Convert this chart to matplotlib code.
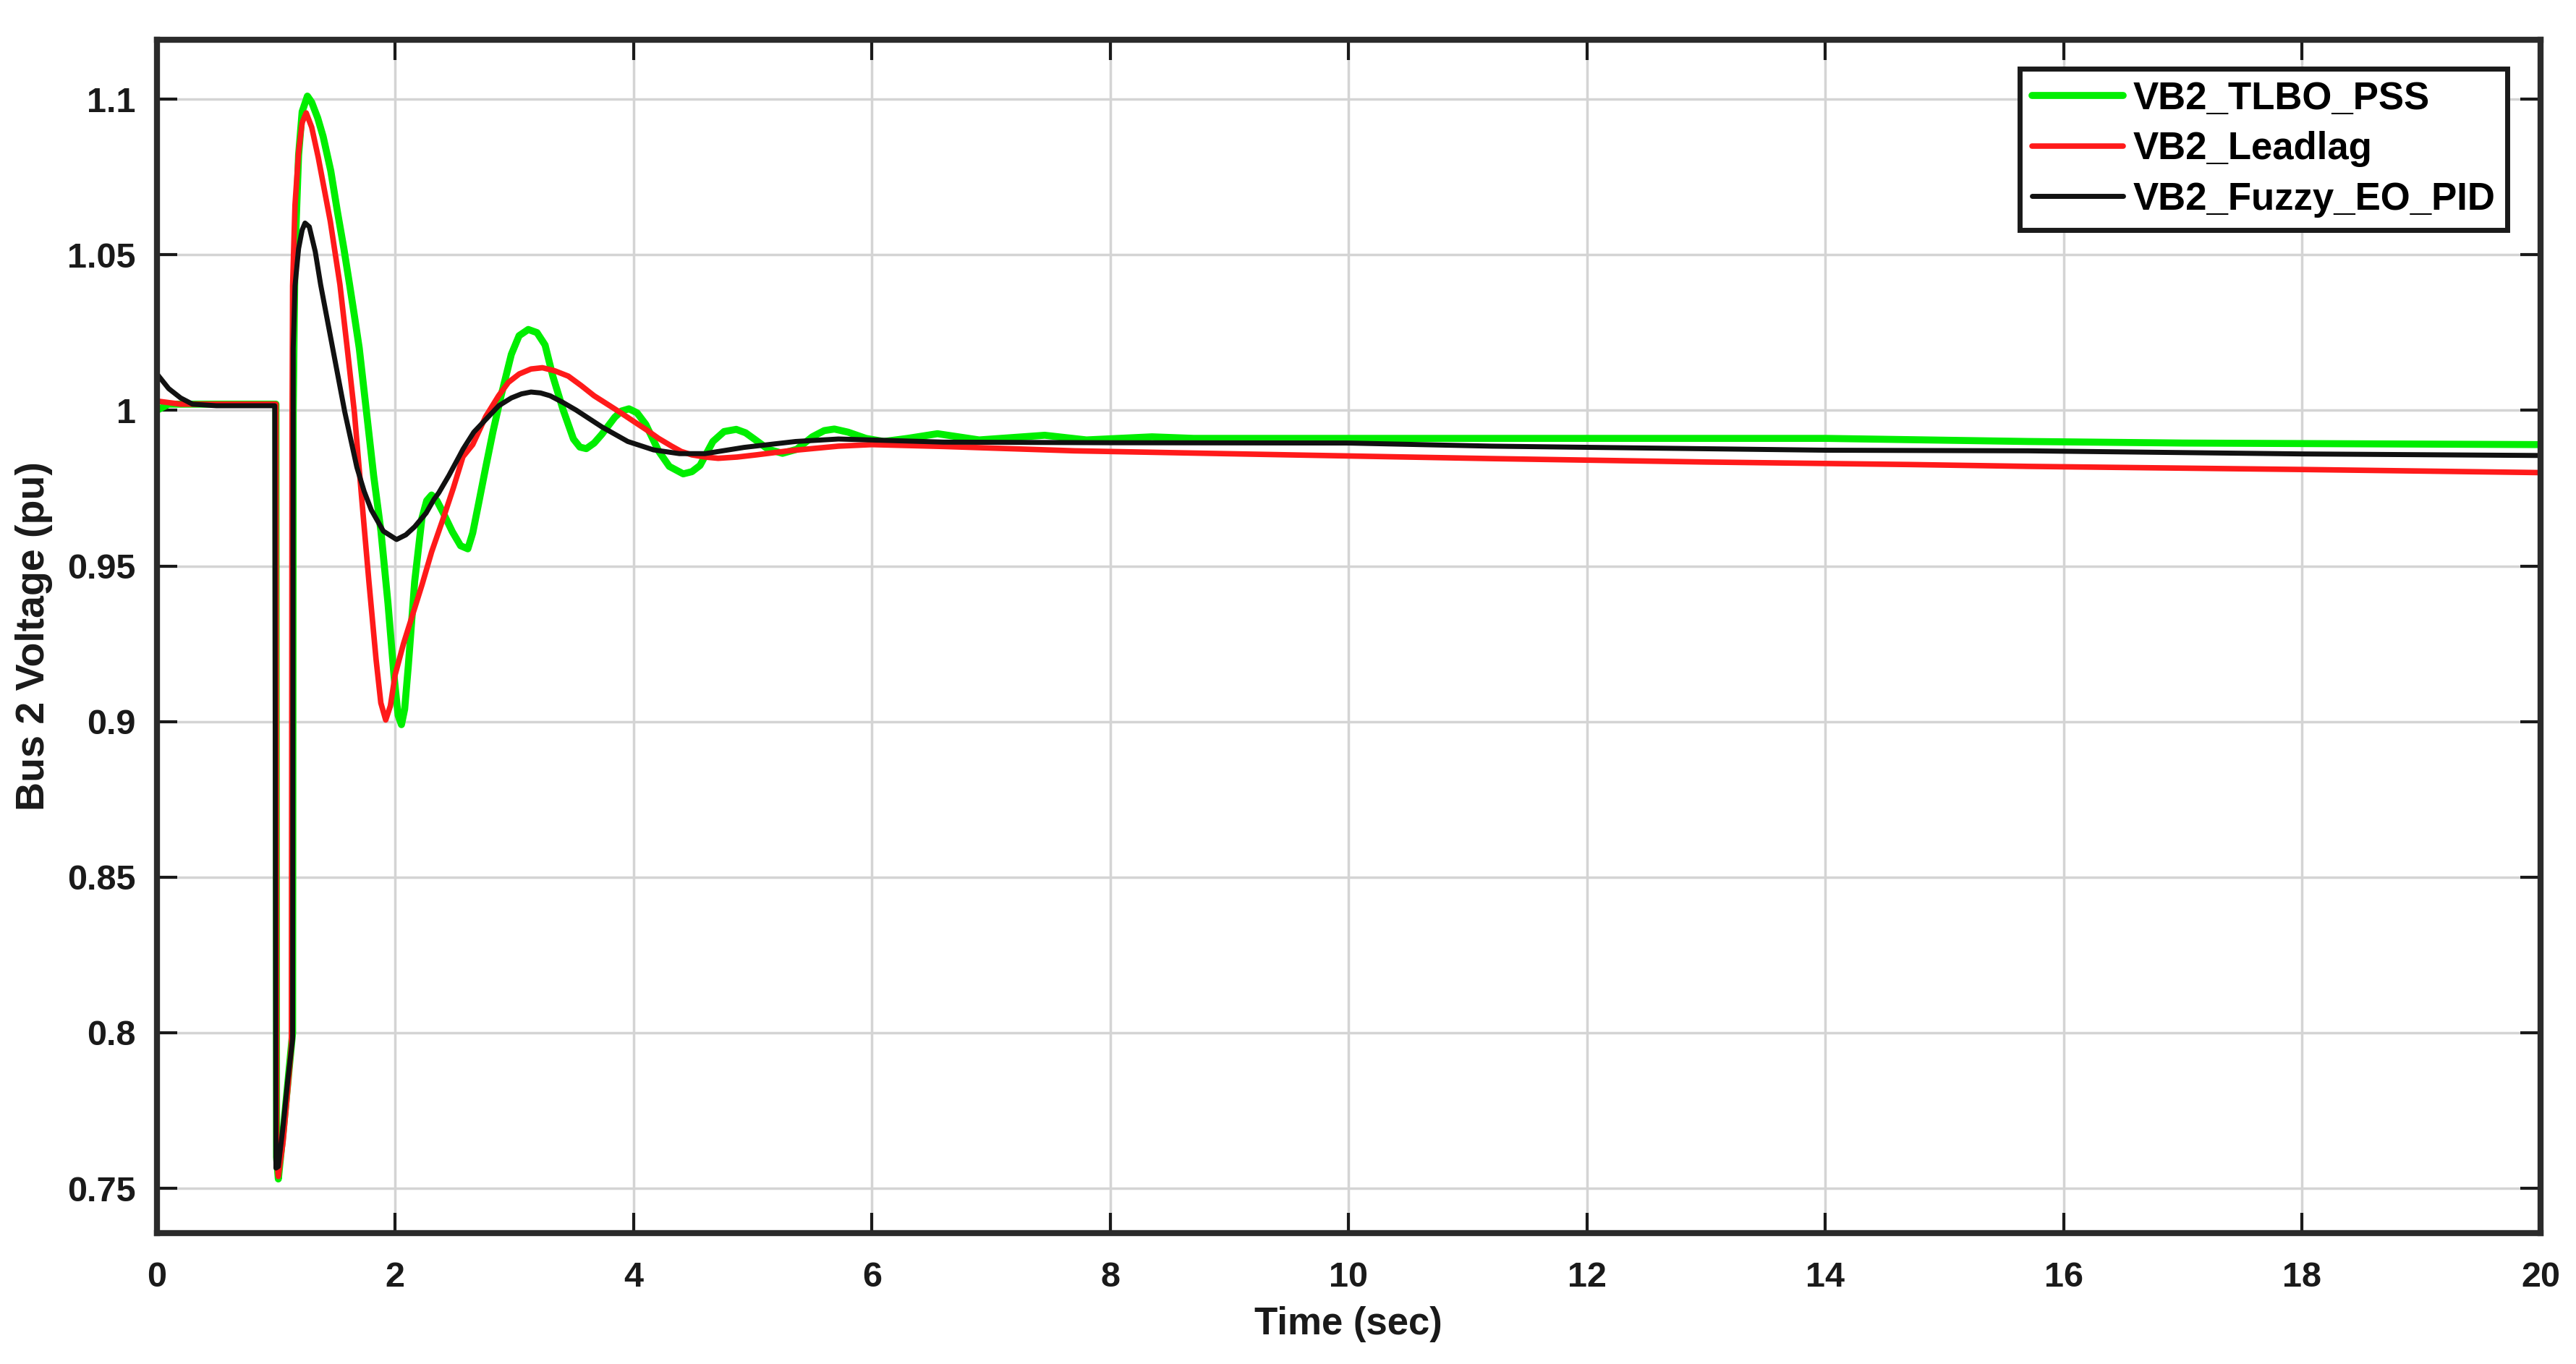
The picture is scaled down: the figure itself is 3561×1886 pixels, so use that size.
import numpy as np
import matplotlib
matplotlib.use("Agg")
import matplotlib.pyplot as plt
from matplotlib.ticker import FuncFormatter

# values (time in sec, voltage in pu)
t_tlbo = [0.0, 0.1, 0.3, 0.6, 0.9, 1.0, 1.005, 1.02, 1.06, 1.10, 1.14, 1.145, 1.16, 1.19,
          1.22, 1.264, 1.30, 1.35, 1.396, 1.46, 1.517, 1.57, 1.618, 1.66, 1.699, 1.76,
          1.82, 1.881, 1.94, 1.99, 2.025, 2.053, 2.08, 2.11, 2.164, 2.225, 2.265, 2.306,
          2.35, 2.407, 2.48, 2.549, 2.61, 2.651, 2.70, 2.759, 2.82, 2.889, 2.975, 3.04,
          3.117, 3.19, 3.258, 3.323, 3.41, 3.496, 3.55, 3.604, 3.67, 3.734, 3.843, 3.90,
          3.962, 4.03, 4.103, 4.211, 4.30, 4.417, 4.49, 4.558, 4.666, 4.76, 4.862, 4.94,
          5.013, 5.13, 5.25, 5.37, 5.50, 5.60, 5.685, 5.8, 5.95, 6.1, 6.3, 6.55, 6.9,
          7.45, 7.8, 8.35, 8.7, 10.0, 12.0, 14.0, 15.7, 17.0, 20.0]
v_tlbo = [1.000, 1.002, 1.002, 1.002, 1.002, 1.002, 0.760, 0.753, 0.768, 0.784, 0.800, 1.000,
          1.050, 1.082, 1.096, 1.101, 1.099, 1.094, 1.088, 1.077, 1.0636, 1.052, 1.0404,
          1.030, 1.020, 0.9994, 0.979, 0.9612, 0.938, 0.915, 0.902, 0.899, 0.904, 0.9176,
          0.945, 0.9654, 0.971, 0.9728, 0.971, 0.9668, 0.961, 0.9565, 0.9555, 0.9606,
          0.970, 0.9815, 0.993, 1.0047, 1.018, 1.024, 1.026, 1.025, 1.021, 1.011, 1.0001,
          0.9908, 0.9882, 0.9877, 0.9895, 0.9923, 0.9978, 0.9998, 1.0005, 0.9992, 0.9955,
          0.9869, 0.9820, 0.9796, 0.9803, 0.9823, 0.990, 0.9932, 0.9939, 0.9928, 0.9908,
          0.9875, 0.9862, 0.9875, 0.9915, 0.9935, 0.994, 0.993, 0.991, 0.990, 0.991,
          0.9925, 0.9905, 0.992, 0.9905, 0.9915, 0.991, 0.991, 0.991, 0.991, 0.990,
          0.9895, 0.989]

t_leadlag = [0.0, 0.2, 0.5, 1.0, 1.005, 1.02, 1.06, 1.10, 1.13, 1.135, 1.14, 1.16, 1.19,
             1.22, 1.254, 1.30, 1.355, 1.456, 1.537, 1.598, 1.658, 1.719, 1.78, 1.84, 1.88,
             1.921, 1.96, 2.0, 2.07, 2.144, 2.226, 2.306, 2.41, 2.488, 2.569, 2.651, 2.76,
             2.868, 2.95, 3.041, 3.14, 3.236, 3.34, 3.453, 3.56, 3.669, 3.78, 3.886, 4.0,
             4.103, 4.21, 4.32, 4.40, 4.49, 4.6, 4.71, 4.87, 5.03, 5.3, 5.72, 6.0, 6.6,
             7.7, 9.5, 11.2, 13.0, 14.7, 15.7, 18.0, 20.0]
v_leadlag = [1.003, 1.002, 1.002, 1.002, 0.760, 0.7538, 0.765, 0.782, 0.796, 0.990, 1.040,
             1.066, 1.083, 1.0925, 1.0956, 1.091, 1.0813, 1.0608, 1.0404, 1.020, 0.9994,
             0.972, 0.945, 0.920, 0.906, 0.9005, 0.905, 0.915, 0.925, 0.934, 0.944, 0.9545,
             0.966, 0.975, 0.9851, 0.989, 0.998, 1.0047, 1.009, 1.0117, 1.0133, 1.0137,
             1.0127, 1.011, 1.008, 1.0047, 1.002, 0.9994, 0.9965, 0.9939, 0.991, 0.9885,
             0.9868, 0.9857, 0.985, 0.9846, 0.985, 0.9857, 0.987, 0.9885, 0.989, 0.9884,
             0.987, 0.9857, 0.9845, 0.9834, 0.9826, 0.982, 0.981, 0.980]

t_fuzzy = [0.0, 0.1, 0.2, 0.3, 0.5, 0.8, 0.99, 1.0, 1.02, 1.06, 1.10, 1.14, 1.145, 1.16,
           1.19, 1.22, 1.244, 1.28, 1.33, 1.375, 1.476, 1.578, 1.679, 1.74, 1.80, 1.901,
           2.012, 2.09, 2.164, 2.26, 2.326, 2.366, 2.45, 2.54, 2.569, 2.66, 2.759, 2.87,
           2.975, 3.06, 3.14, 3.22, 3.30, 3.41, 3.518, 3.734, 3.952, 4.168, 4.385, 4.6,
           4.927, 5.36, 5.72, 6.6, 8.0, 10.0, 11.2, 14.0, 15.7, 18.0, 20.0]
v_fuzzy = [1.0118, 1.007, 1.004, 1.002, 1.0015, 1.0015, 1.0015, 0.7565, 0.757, 0.770,
           0.785, 0.798, 1.020, 1.040, 1.052, 1.058, 1.0602, 1.059, 1.051, 1.0404, 1.020,
           0.9994, 0.9817, 0.974, 0.968, 0.9612, 0.9585, 0.960, 0.9626, 0.967, 0.9714,
           0.9735, 0.979, 0.9854, 0.9875, 0.993, 0.997, 1.0015, 1.004, 1.0053, 1.0059,
           1.0056, 1.0047, 1.0025, 1.0001, 0.9947, 0.990, 0.9873, 0.9861, 0.9861, 0.9881,
           0.990, 0.9908, 0.9898, 0.9896, 0.9895, 0.9885, 0.9872, 0.987, 0.986, 0.9855]

labels = ["VB2_TLBO_PSS", "VB2_Leadlag", "VB2_Fuzzy_EO_PID"]
x_ticks = np.arange(0, 21, 2)
y_ticks = [0.75, 0.8, 0.85, 0.9, 0.95, 1.0, 1.05, 1.1]

plt.rcParams['font.family'] = ['Liberation Sans', 'DejaVu Sans']
plt.rcParams['font.weight'] = 'bold'

fig = plt.figure(figsize=(35.61, 18.86), dpi=100)
ax = fig.add_axes([0.06085, 0.09597, 0.92539, 0.87487])

ax.plot(t_tlbo, v_tlbo, color='#00ee00', lw=7, label=labels[0],
        solid_joinstyle='round', solid_capstyle='round')
ax.plot(t_leadlag, v_leadlag, color='#ff1a1a', lw=5.5, label=labels[1],
        solid_joinstyle='round', solid_capstyle='round')
ax.plot(t_fuzzy, v_fuzzy, color='#111111', lw=5, label=labels[2],
        solid_joinstyle='round', solid_capstyle='round')

ax.set_xlim(0, 20)
ax.set_ylim(0.7356, 1.1191)
ax.set_xticks(x_ticks)
ax.set_yticks(y_ticks)
ax.yaxis.set_major_formatter(FuncFormatter(lambda v, p: "%g" % v))
ax.grid(True, color='#d4d4d4', lw=2.5)
ax.set_axisbelow(True)

ax.tick_params(axis='both', which='major', direction='in', length=20, width=3,
               labelsize=35, colors='#1a1a1a', top=True, right=True)
ax.tick_params(axis='x', pad=28)
ax.tick_params(axis='y', pad=21)
for s in ax.spines.values():
    s.set_linewidth(6)
    s.set_color('#2b2b2b')

ax.set_xlabel("Time (sec)", fontsize=38, fontweight='bold', color='#1a1a1a', labelpad=12)
ax.set_ylabel("Bus 2 Voltage (pu)", fontsize=40, fontweight='bold', color='#1a1a1a', labelpad=14)

leg = ax.legend(loc='upper right', bbox_to_anchor=(0.9861, 0.9758), borderaxespad=0,
                fontsize=38, fancybox=False, framealpha=1, edgecolor='#1a1a1a',
                handlelength=2.4, handletextpad=0.25, labelspacing=0.37, borderpad=0.32)
leg.get_frame().set_linewidth(5)
for txt in leg.get_texts():
    txt.set_fontweight('bold')

fig.savefig("out.png", dpi=100, facecolor='white')
